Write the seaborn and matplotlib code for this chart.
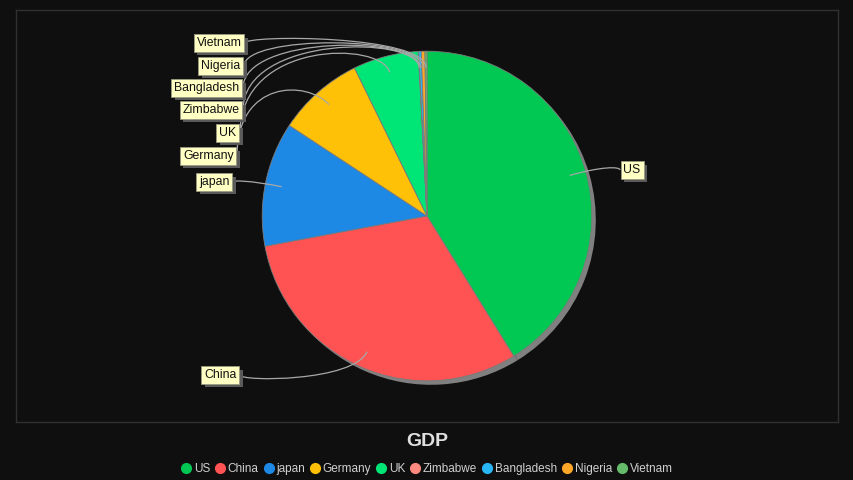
import matplotlib
matplotlib.use("Agg")
import matplotlib.pyplot as plt
import matplotlib.patheffects as pe
from matplotlib.path import Path
from matplotlib.patches import PathPatch
from matplotlib.lines import Line2D
import numpy as np
import seaborn as sns

countries = ["US", "China", "japan", "Germany", "UK",
             "Zimbabwe", "Bangladesh", "Nigeria", "Vietnam"]
gdp_share = [41.2, 30.9, 12.2, 8.5, 6.4, 0.05, 0.25, 0.35, 0.2]
colors = ["#00C853", "#FF5252", "#1E88E5", "#FFC107", "#00E676",
          "#FF8A80", "#29B6F6", "#FFA726", "#66BB6A"]
title = "GDP"

# label box placement in screen pixels (edge nearest the pie, vertical centre)
label_px = {"US": (620, 170), "China": (240, 375), "japan": (233, 182),
            "Germany": (237, 156), "UK": (240, 133), "Zimbabwe": (243, 110),
            "Bangladesh": (243, 88), "Nigeria": (244, 66), "Vietnam": (245, 43)}

sns.set_theme(style="dark")
plt.rcParams["font.family"] = ["Liberation Sans", "DejaVu Sans"]

W, H = 854, 480
bg = "#0F0F0F"
fig = plt.figure(figsize=(W / 100, H / 100), dpi=100, facecolor=bg)
# plot area (16,10)-(838,422)
ax = fig.add_axes([16 / W, 1 - 422 / H, 822 / W, 412 / H])
ax.set_facecolor(bg)

scale = 412 / 2.5          # pixels per data unit
cx, cy = 427, 216           # pie centre, pixels


def px(x, y):
    return ((x - cx) / scale, (cy - y) / scale)


# shadow
ax.pie(gdp_share, colors=["#808080"] * len(gdp_share), startangle=90,
       counterclock=False, radius=1, center=(4 / scale, -4 / scale),
       wedgeprops=dict(linewidth=0))
ax.pie(gdp_share, colors=colors, startangle=90, counterclock=False,
       radius=1, center=(0, 0),
       wedgeprops=dict(edgecolor="#7A7A7A", linewidth=0.6))

ax.set_aspect("auto")
ax.set_frame_on(True)
ax.set_xlim(-822 / 2 / scale, 822 / 2 / scale)
ax.set_ylim(-1.25, 1.25)
ax.set_xticks([])
ax.set_yticks([])
for s in ax.spines.values():
    s.set_visible(True)
    s.set_color("#303030")
    s.set_linewidth(1)

# labels with curved links
vals = np.array(gdp_share)
cum = np.cumsum(vals) / vals.sum() * 360
mids = np.radians(cum - vals / vals.sum() * 180)
for name, th in zip(countries, mids):
    d = np.array([np.sin(th), np.cos(th)])
    A = 0.9 * d
    E = 1.1 * d
    lx, ly = label_px[name]
    L = np.array(px(lx, ly))
    right_side = d[0] > 0
    C1 = np.array([L[0], E[1]])
    path = Path([L, C1, E, A], [Path.MOVETO, Path.CURVE4, Path.CURVE4, Path.CURVE4])
    ax.add_patch(PathPatch(path, facecolor="none", edgecolor="#A8A8A8",
                           linewidth=0.9, zorder=3))
    padx = 3.5 / scale
    t = ax.text(L[0] + (padx if right_side else -padx), L[1], name,
                ha="left" if right_side else "right", va="center",
                fontsize=8.8, color="#111111", zorder=5,
                bbox=dict(boxstyle="square,pad=0.24", facecolor="#FFFFC4",
                          edgecolor="#9A9A80", linewidth=0.6))
    t.get_bbox_patch().set_path_effects([
        pe.SimplePatchShadow(offset=(2.5, -2.5), shadow_rgbFace="#5A5A5A", alpha=1),
        pe.Normal()])

fig.text(427 / W, 1 - 441 / H, title, ha="center", va="center",
         fontsize=14, fontweight="bold", color="#E0E0E0")

handles = [Line2D([], [], marker="o", ls="", color=c, markersize=7) for c in colors]
fig.legend(handles, countries, loc="center", bbox_to_anchor=(427 / W, 1 - 469 / H),
           ncol=len(countries), frameon=False, fontsize=8.5, labelcolor="#D0D0D0",
           handletextpad=0.25, columnspacing=0.45, handlelength=0.8,
           borderaxespad=0)

fig.savefig("out.png", dpi=100, facecolor=bg)
